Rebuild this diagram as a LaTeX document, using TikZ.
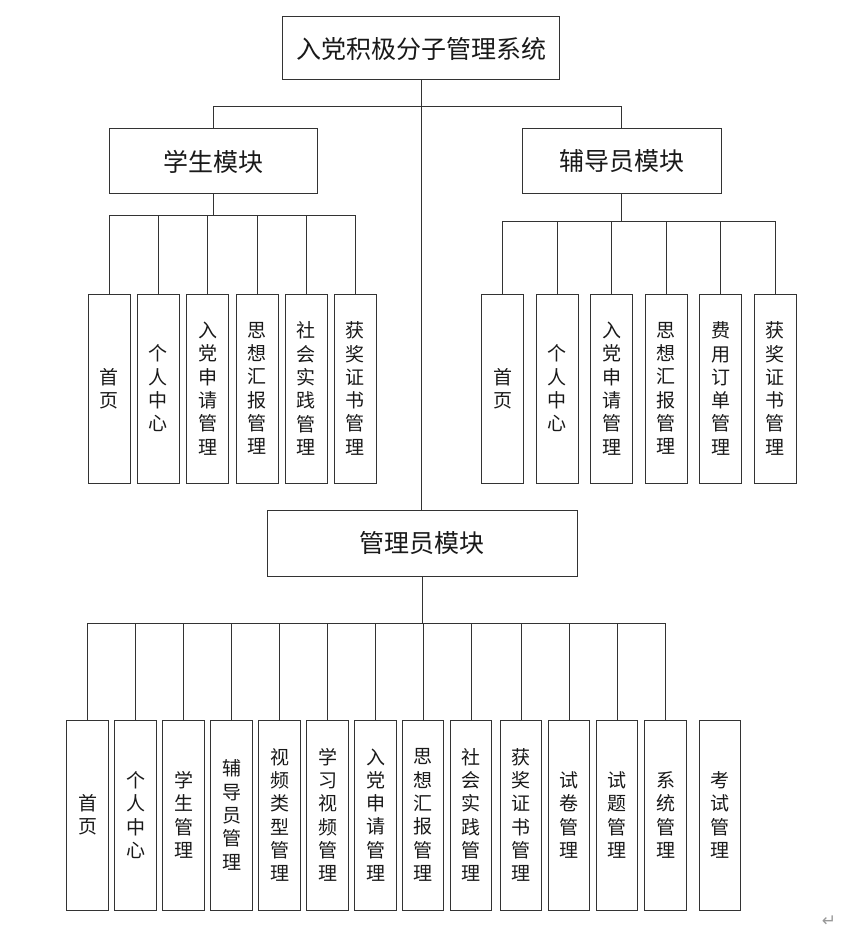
\documentclass[tikz,border=0pt]{standalone}
\usepackage{fontspec}
\setmainfont{Noto Sans CJK SC}
\newfontfamily\symfont{DejaVu Sans}
\usepackage{tikz}

\begin{document}
\begin{tikzpicture}[x=1pt,y=-1pt,
    line width=1pt, draw=black!80,
    headbox/.style={rectangle,draw=black!80,inner sep=0pt,font=\fontsize{25}{29}\selectfont,text=black!90},
    leafbox/.style={rectangle,draw=black!80,inner sep=0pt,minimum width=42pt,minimum height=189pt,align=center,font=\fontsize{19}{23.3}\selectfont,text=black!90},
    adminleaf/.style={leafbox,minimum width=41.5pt,minimum height=190pt},
    link/.style={draw=black!80,line width=1pt}]
    \useasboundingbox (0,0) rectangle (852,933);
    % top level
    \node[headbox, minimum width=277pt, minimum height=63pt] (sys) at (421,48.5) {入党积极分子管理系统};
    \node[headbox, minimum width=208pt, minimum height=65pt] (stu) at (213,161.5) {学生模块};
    \node[headbox, minimum width=199pt, minimum height=65pt] (cou) at (621.5,161.5) {辅导员模块};
    \node[headbox, minimum width=310pt, minimum height=66pt] (adm) at (422,543) {管理员模块};
    % student module
    \node[leafbox] (s1) at (109,388.5) {首\\页};
    \node[leafbox] (s2) at (158,388.5) {个\\人\\中\\心};
    \node[leafbox] (s3) at (207.5,388.5) {入\\党\\申\\请\\管\\理};
    \node[leafbox] (s4) at (257,388.5) {思\\想\\汇\\报\\管\\理};
    \node[leafbox] (s5) at (306,388.5) {社\\会\\实\\践\\管\\理};
    \node[leafbox] (s6) at (355,388.5) {获\\奖\\证\\书\\管\\理};
    % counsellor module
    \node[leafbox] (c1) at (502.5,388.5) {首\\页};
    \node[leafbox] (c2) at (557,388.5) {个\\人\\中\\心};
    \node[leafbox] (c3) at (611.5,388.5) {入\\党\\申\\请\\管\\理};
    \node[leafbox] (c4) at (666,388.5) {思\\想\\汇\\报\\管\\理};
    \node[leafbox] (c5) at (720.5,388.5) {费\\用\\订\\单\\管\\理};
    \node[leafbox] (c6) at (775,388.5) {获\\奖\\证\\书\\管\\理};
    % admin module
    \node[adminleaf] (a1) at (87.5,815) {首\\页};
    \node[adminleaf] (a2) at (135.5,815) {个\\人\\中\\心};
    \node[adminleaf] (a3) at (183.5,815) {学\\生\\管\\理};
    \node[adminleaf] (a4) at (231.5,815) {辅\\导\\员\\管\\理};
    \node[adminleaf] (a5) at (279.5,815) {视\\频\\类\\型\\管\\理};
    \node[adminleaf] (a6) at (327.5,815) {学\\习\\视\\频\\管\\理};
    \node[adminleaf] (a7) at (375.5,815) {入\\党\\申\\请\\管\\理};
    \node[adminleaf] (a8) at (423,815) {思\\想\\汇\\报\\管\\理};
    \node[adminleaf] (a9) at (471,815) {社\\会\\实\\践\\管\\理};
    \node[adminleaf] (a10) at (521,815) {获\\奖\\证\\书\\管\\理};
    \node[adminleaf] (a11) at (569,815) {试\\卷\\管\\理};
    \node[adminleaf] (a12) at (617,815) {试\\题\\管\\理};
    \node[adminleaf] (a13) at (665.5,815) {系\\统\\管\\理};
    \node[adminleaf] (a14) at (720,815) {考\\试\\管\\理};
    \node[text=black!40, font=\symfont\fontsize{17}{17}\selectfont] (ret) at (829,921) {↵};
    % connectors
    \coordinate (jT) at (421,107);
    \coordinate (jS) at (213,216);
    \coordinate (jC) at (621.5,222);
    \coordinate (jA) at (422,623);
    \draw[link] (sys.south) -- (jT) -| (stu.north);
    \draw[link] (jT) -| (cou.north);
    \draw[link] (jT) -- (jT |- adm.north);
    \foreach \c in {s1,s2,s3,s4,s5,s6} \draw[link] (stu.south) -- (jS) -| (\c.north);
    \foreach \c in {c1,c2,c3,c4,c5,c6} \draw[link] (cou.south) -- (jC) -| (\c.north);
    \foreach \c in {a1,a2,a3,a4,a5,a6,a7,a8,a9,a10,a11,a12,a13} \draw[link] (adm.south) -- (jA) -| (\c.north);
\end{tikzpicture}
\end{document}
